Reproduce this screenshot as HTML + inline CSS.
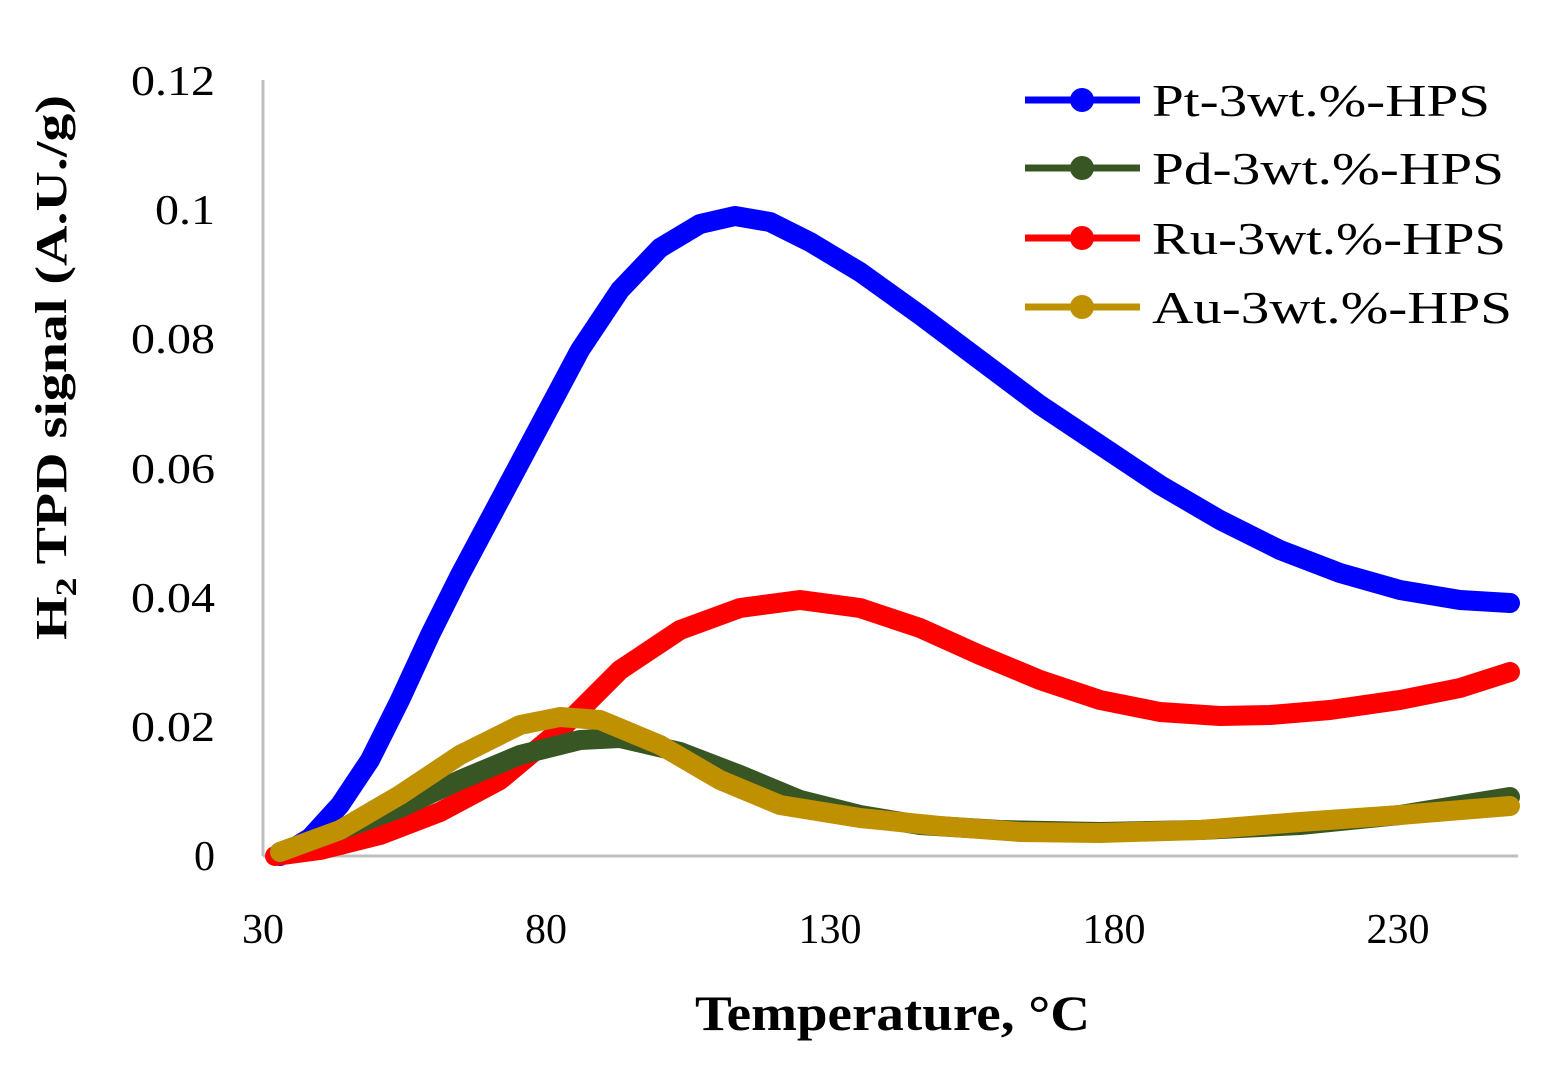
<!DOCTYPE html>
<html><head><meta charset="utf-8"><style>html,body{margin:0;padding:0;background:#fff}</style></head>
<body>
<svg width="1555" height="1065" viewBox="0 0 1555 1065" xmlns="http://www.w3.org/2000/svg" font-family="Liberation Serif, serif">
<line x1="263" y1="80" x2="263" y2="856" stroke="#bfbfbf" stroke-width="3"/>
<line x1="263" y1="856" x2="1518" y2="856" stroke="#bfbfbf" stroke-width="3"/>
<g font-size="42" text-anchor="end" fill="#000">
<text x="215" y="870">0</text>
<text x="215" y="741" textLength="84" lengthAdjust="spacingAndGlyphs">0.02</text>
<text x="215" y="612" textLength="84" lengthAdjust="spacingAndGlyphs">0.04</text>
<text x="215" y="483" textLength="84" lengthAdjust="spacingAndGlyphs">0.06</text>
<text x="215" y="353" textLength="84" lengthAdjust="spacingAndGlyphs">0.08</text>
<text x="215" y="224" textLength="60" lengthAdjust="spacingAndGlyphs">0.1</text>
<text x="215" y="95" textLength="84" lengthAdjust="spacingAndGlyphs">0.12</text>
</g>
<g font-size="42" text-anchor="middle">
<text x="263" y="943">30</text>
<text x="546" y="943">80</text>
<text x="830" y="943">130</text>
<text x="1114" y="943">180</text>
<text x="1398" y="943">230</text>
</g>
<text x="695" y="1030" font-size="50" font-weight="bold" textLength="395" lengthAdjust="spacingAndGlyphs">Temperature, °C</text>
<text transform="translate(66,640) rotate(-90)" font-size="44" font-weight="bold" textLength="545" lengthAdjust="spacingAndGlyphs">H<tspan font-size="30" dy="10">2</tspan><tspan dy="-10"> TPD signal (A.U./g)</tspan></text>
<g fill="none" stroke-width="20" stroke-linejoin="round" stroke-linecap="round">
<polyline stroke="#0000ff" points="280,856 310,838 340,805 370,760 400,700 430,635 460,575 500,500 540,425 580,350 620,290 660,248 700,224 735,216 770,222 810,242 860,272 920,315 980,360 1040,405 1100,445 1160,485 1220,520 1280,550 1340,573 1400,590 1460,600 1510,603"/>
<polyline stroke="#ff0000" points="275,856 320,850 380,835 440,812 500,780 560,730 620,670 680,630 740,608 800,600 860,608 920,628 980,655 1040,680 1100,700 1160,712 1220,716 1270,715 1330,710 1400,700 1460,688 1510,672"/>
<polyline stroke="#375623" points="280,852 340,830 400,808 460,780 520,755 580,740 620,738 680,752 740,775 800,800 860,815 920,825 1000,830 1100,832 1200,830 1300,825 1400,815 1510,797"/>
<polyline stroke="#bf9000" points="280,852 340,830 400,795 460,755 520,725 560,717 600,720 660,745 720,780 780,805 860,818 940,826 1020,832 1100,833 1200,830 1300,822 1400,815 1510,806"/>
</g>
<g stroke-width="7">
<line x1="1025" y1="100" x2="1140" y2="100" stroke="#0000ff"/>
<line x1="1025" y1="168" x2="1140" y2="168" stroke="#375623"/>
<line x1="1025" y1="238" x2="1140" y2="238" stroke="#ff0000"/>
<line x1="1025" y1="307" x2="1140" y2="307" stroke="#bf9000"/>
</g>
<circle cx="1082" cy="100" r="12" fill="#0000ff"/>
<circle cx="1082" cy="168" r="12" fill="#375623"/>
<circle cx="1082" cy="238" r="12" fill="#ff0000"/>
<circle cx="1082" cy="307" r="12" fill="#bf9000"/>
<g font-size="46">
<text x="1152" y="116" textLength="338" lengthAdjust="spacingAndGlyphs">Pt-3wt.%-HPS</text>
<text x="1152" y="184" textLength="352" lengthAdjust="spacingAndGlyphs">Pd-3wt.%-HPS</text>
<text x="1152" y="254" textLength="354" lengthAdjust="spacingAndGlyphs">Ru-3wt.%-HPS</text>
<text x="1152" y="323" textLength="360" lengthAdjust="spacingAndGlyphs">Au-3wt.%-HPS</text>
</g>
</svg>
</body></html>
